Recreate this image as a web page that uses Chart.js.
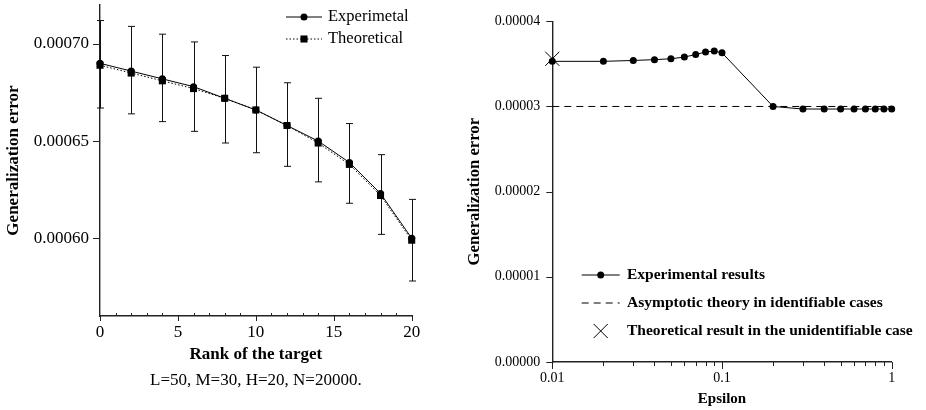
<!DOCTYPE html>
<html>
<head>
<meta charset="utf-8">
<script src="https://cdn.jsdelivr.net/npm/chart.js@4"></script>
<style>
  html, body { margin: 0; padding: 0; background: #fff; }
  #wrap { position: relative; width: 926px; height: 410px; }
  canvas { position: absolute; top: 0; }
  #rankChart { left: 0; }
  #epsChart { left: 463px; }
</style>
</head>
<body>
<div id="wrap">
  <canvas id="rankChart" width="463" height="410"></canvas>
  <canvas id="epsChart" width="463" height="410"></canvas>
</div>
<script>
// --- left panel : error vs rank of the target ---
const rankValues = [0, 2, 4, 6, 8, 10, 12, 14, 16, 18, 20];
const expError = [0.000690, 0.000686, 0.000682, 0.000678, 0.000672, 0.000666, 0.000658, 0.000650, 0.000639, 0.000623, 0.000600];
const expLow = [0.000667, 0.000664, 0.000660, 0.000655, 0.000649, 0.000644, 0.000637, 0.000629, 0.000618, 0.000602, 0.000578];
const expHigh = [0.000712, 0.000709, 0.000705, 0.000701, 0.000694, 0.000688, 0.000680, 0.000672, 0.000659, 0.000643, 0.000620];
const theoError = [0.000689, 0.000685, 0.000681, 0.000677, 0.000672, 0.000666, 0.000658, 0.000649, 0.000638, 0.000622, 0.000599];
const rankTicks = [0, 5, 10, 15, 20];
const rankMinorTicks = [1, 2, 3, 4, 6, 7, 8, 9, 11, 12, 13, 14, 16, 17, 18, 19];
const rankErrorTicks = [0.00060, 0.00065, 0.00070];

// --- right panel : error vs epsilon ---
const epsValues = [0.01, 0.02, 0.03, 0.04, 0.05, 0.06, 0.07, 0.08, 0.09, 0.1, 0.2, 0.3, 0.4, 0.5, 0.6, 0.7, 0.8, 0.9, 1];
const epsError = [0.0000353, 0.0000353, 0.0000354, 0.0000355, 0.0000356, 0.0000358, 0.0000361, 0.0000364, 0.0000365, 0.0000363,
                  0.0000300, 0.0000297, 0.0000297, 0.0000297, 0.0000297, 0.0000297, 0.0000297, 0.0000297, 0.0000297];
const asymptoticEps = [0.01, 1];
const asymptoticError = [0.00003, 0.00003];
const unidentEps = [0.01];
const unidentError = [0.0000356];
const epsTicks = [0.01, 0.1, 1];
const epsMinorTicks = [0.02, 0.03, 0.04, 0.05, 0.06, 0.07, 0.08, 0.09, 0.2, 0.3, 0.4, 0.5, 0.6, 0.7, 0.8, 0.9];
const epsErrorTicks = [0, 0.00001, 0.00002, 0.00003, 0.00004];

const SERIF = "'Liberation Serif', 'Times New Roman', serif";
Chart.defaults.font.family = SERIF;
Chart.defaults.color = '#000';

const toPoints = (xs, ys) => xs.map((x, i) => ({ x: x, y: ys[i] }));

function drawMarker(ctx, style, x, y, r) {
    ctx.beginPath();
    if (style === 'rect') {
        const s = r * Math.SQRT1_2;
        ctx.rect(x - s, y - s, 2 * s, 2 * s);
        ctx.fill();
    } else if (style === 'crossRot') {
        const s = r * Math.SQRT1_2;
        ctx.moveTo(x - s, y - s); ctx.lineTo(x + s, y + s);
        ctx.moveTo(x + s, y - s); ctx.lineTo(x - s, y + s);
        ctx.stroke();
    } else {
        ctx.arc(x, y, r, 0, Math.PI * 2);
        ctx.fill();
    }
}

// tick marks drawn by hand (major / minor, different lengths)
const axisTicks = {
    id: 'axisTicks',
    afterDraw(chart, args, opts) {
        const ctx = chart.ctx;
        const { x, y } = chart.scales;
        const { left, bottom } = chart.chartArea;
        ctx.save();
        ctx.strokeStyle = '#222';
        ctx.lineWidth = 1;
        const vTick = (v, up, down) => {
            const px = Math.round(x.getPixelForValue(v)) + 0.5;
            ctx.beginPath(); ctx.moveTo(px, bottom - up); ctx.lineTo(px, bottom + down); ctx.stroke();
        };
        const hTick = (v, len) => {
            const py = Math.round(y.getPixelForValue(v)) + 0.5;
            ctx.beginPath(); ctx.moveTo(left - len, py); ctx.lineTo(left, py); ctx.stroke();
        };
        opts.xMajor.forEach(v => vTick(v, opts.xMajorLen[0], opts.xMajorLen[1]));
        opts.xMinor.forEach(v => vTick(v, opts.xMinorLen[0], opts.xMinorLen[1]));
        opts.yMajor.forEach(v => hTick(v, opts.yLen));
        ctx.restore();
    }
};

// vertical error bars with caps
const errorBars = {
    id: 'errorBars',
    beforeDatasetsDraw(chart, args, opts) {
        if (!opts.low) return;
        const ctx = chart.ctx;
        const { x, y } = chart.scales;
        ctx.save();
        ctx.strokeStyle = '#111';
        ctx.lineWidth = 1;
        opts.xs.forEach((v, i) => {
            const px = Math.round(x.getPixelForValue(v)) + 0.5;
            const top = y.getPixelForValue(opts.high[i]);
            const bot = y.getPixelForValue(opts.low[i]);
            ctx.beginPath();
            ctx.moveTo(px, top); ctx.lineTo(px, bot);
            ctx.moveTo(px - opts.cap, top); ctx.lineTo(px + opts.cap, top);
            ctx.moveTo(px - opts.cap, bot); ctx.lineTo(px + opts.cap, bot);
            ctx.stroke();
        });
        ctx.restore();
    }
};

// legend with line + marker sample, placed freely
const lineLegend = {
    id: 'lineLegend',
    afterDraw(chart, args, opts) {
        const ctx = chart.ctx;
        ctx.save();
        ctx.font = opts.font;
        ctx.textBaseline = 'middle';
        ctx.fillStyle = '#000';
        ctx.strokeStyle = '#000';
        chart.data.datasets.forEach((ds, row) => {
            const y = opts.y + row * opts.rowHeight;
            const x0 = opts.x, x1 = opts.x + opts.symbolWidth;
            ctx.lineWidth = 1;
            if (ds.showLine !== false) {
                ctx.setLineDash(ds.borderDash || []);
                ctx.beginPath(); ctx.moveTo(x0, y); ctx.lineTo(x1, y); ctx.stroke();
                ctx.setLineDash([]);
            }
            if (ds.pointRadius) drawMarker(ctx, ds.pointStyle, (x0 + x1) / 2, y, ds.pointRadius);
            ctx.fillText(ds.label, opts.textX, y);
        });
        ctx.restore();
    }
};

function fixedBox(size, key) {
    return scale => {
        scale[key] = size;
        scale.paddingTop = 0; scale.paddingBottom = 0;
        scale.paddingLeft = 0; scale.paddingRight = 0;
    };
}

const axisBorder = { display: true, color: '#222', width: 1.4 };

new Chart(document.getElementById('rankChart'), {
    type: 'line',
    data: {
        datasets: [
            {
                label: 'Experimetal',
                data: toPoints(rankValues, expError),
                borderColor: '#000', backgroundColor: '#000', borderWidth: 1,
                pointStyle: 'circle', pointRadius: 3.5, pointBorderWidth: 0,
                order: 1, clip: false
            },
            {
                label: 'Theoretical',
                data: toPoints(rankValues, theoError),
                borderColor: '#000', backgroundColor: '#000', borderWidth: 1,
                borderDash: [1.5, 2],
                pointStyle: 'rect', pointRadius: 5, pointBorderWidth: 0,
                order: 0, clip: false
            }
        ]
    },
    options: {
        responsive: false,
        animation: false,
        events: [],
        layout: { padding: { top: 5, right: 51.3, left: 0, bottom: 0 } },
        scales: {
            x: {
                type: 'linear', min: 0, max: 20,
                grid: { display: false, drawTicks: false },
                border: axisBorder,
                afterBuildTicks: s => { s.ticks = rankTicks.map(v => ({ value: v })); },
                afterFit: fixedBox(51, 'height'),
                ticks: { font: { size: 17 }, padding: 6, maxRotation: 0 },
                title: { display: true, text: 'Rank of the target', font: { size: 17, weight: 'bold' }, padding: { top: 0, bottom: 2 } }
            },
            y: {
                type: 'linear', min: 0.00056, max: 0.00072,
                grid: { display: false, drawTicks: false },
                border: axisBorder,
                afterBuildTicks: s => { s.ticks = rankErrorTicks.map(v => ({ value: v })); },
                afterFit: fixedBox(100, 'width'),
                ticks: { font: { size: 17 }, padding: 11, callback: v => v.toFixed(5) },
                title: { display: true, text: 'Generalization error', font: { size: 17, weight: 'bold' }, padding: { top: 3, bottom: 0 } }
            }
        },
        plugins: {
            legend: { display: false },
            tooltip: { enabled: false },
            title: {
                display: true, position: 'bottom', fullSize: false,
                text: 'L=50, M=30, H=20, N=20000.',
                font: { size: 17, weight: 'normal' },
                padding: { top: 3, bottom: 19.6 }
            },
            axisTicks: {
                xMajor: rankTicks, xMajorLen: [1, 5],
                xMinor: rankMinorTicks, xMinorLen: [3, 0],
                yMajor: rankErrorTicks, yLen: 7
            },
            errorBars: { xs: rankValues, low: expLow, high: expHigh, cap: 3.5 },
            lineLegend: { x: 286, y: 17, rowHeight: 22, symbolWidth: 36, textX: 328, font: '16.5px ' + SERIF }
        }
    },
    plugins: [errorBars, axisTicks, lineLegend]
});

new Chart(document.getElementById('epsChart'), {
    type: 'line',
    data: {
        datasets: [
            {
                label: 'Experimental results',
                data: toPoints(epsValues, epsError),
                borderColor: '#000', backgroundColor: '#000', borderWidth: 1,
                pointStyle: 'circle', pointRadius: 3.5, pointBorderWidth: 0,
                clip: false
            },
            {
                label: 'Asymptotic theory in identifiable cases',
                data: toPoints(asymptoticEps, asymptoticError),
                borderColor: '#000', borderWidth: 1, borderDash: [7, 5],
                pointRadius: 0, clip: false
            },
            {
                label: 'Theoretical result in the unidentifiable case',
                data: toPoints(unidentEps, unidentError),
                showLine: false,
                borderColor: '#000', backgroundColor: 'rgba(0,0,0,0)',
                pointStyle: 'crossRot', pointRadius: 10, pointBorderWidth: 1,
                clip: false
            }
        ]
    },
    options: {
        responsive: false,
        animation: false,
        events: [],
        layout: { padding: { top: 21.3, right: 34.3, left: 0, bottom: 0 } },
        scales: {
            x: {
                type: 'logarithmic', min: 0.01, max: 1,
                grid: { display: false, drawTicks: false },
                border: axisBorder,
                afterBuildTicks: s => { s.ticks = epsTicks.map(v => ({ value: v })); },
                afterFit: fixedBox(48, 'height'),
                ticks: { font: { size: 14 }, padding: 8, maxRotation: 0, callback: v => String(v) },
                title: { display: true, text: 'Epsilon', font: { size: 15, weight: 'bold' }, padding: { top: 0, bottom: 2 } }
            },
            y: {
                type: 'linear', min: 0, max: 0.00004,
                grid: { display: false, drawTicks: false },
                border: axisBorder,
                afterBuildTicks: s => { s.ticks = epsErrorTicks.map(v => ({ value: v })); },
                afterFit: fixedBox(89.3, 'width'),
                ticks: { font: { size: 14 }, padding: 12, callback: v => v.toFixed(5) },
                title: { display: true, text: 'Generalization error', font: { size: 16.7, weight: 'bold' }, padding: { top: 2, bottom: 0 } }
            }
        },
        plugins: {
            legend: { display: false },
            tooltip: { enabled: false },
            axisTicks: {
                xMajor: epsTicks, xMajorLen: [0, 7],
                xMinor: epsMinorTicks, xMinorLen: [0, 4],
                yMajor: epsErrorTicks, yLen: 6
            },
            errorBars: {},
            lineLegend: { x: 118.7, y: 275, rowHeight: 28, symbolWidth: 38, textX: 164, font: 'bold 15.5px ' + SERIF }
        }
    },
    plugins: [errorBars, axisTicks, lineLegend]
});
</script>
</body>
</html>
